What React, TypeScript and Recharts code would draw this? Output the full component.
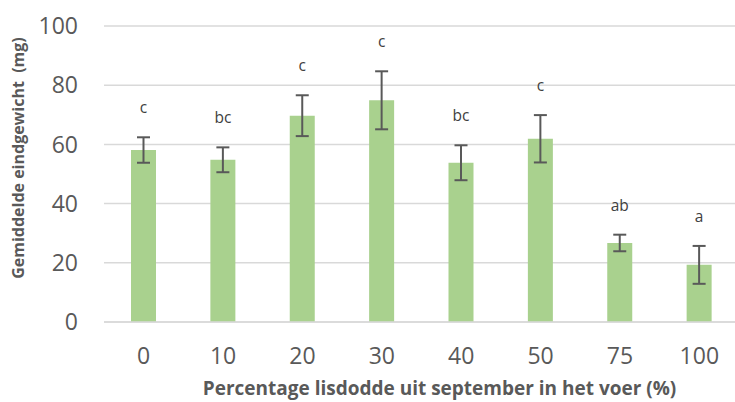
import { BarChart, Bar, XAxis, YAxis, CartesianGrid, ErrorBar, LabelList, Label } from "recharts";

const categories = ["0", "10", "20", "30", "40", "50", "75", "100"];
const means = [58.1, 54.8, 69.7, 74.9, 53.8, 61.9, 26.7, 19.3];
const errors = [4.3, 4.2, 6.9, 9.8, 5.9, 8.0, 2.8, 6.4];
const letters = ["c", "bc", "c", "c", "bc", "c", "ab", "a"];
const yTicks = [0, 20, 40, 60, 80, 100];

const data = categories.map((cat, i) => ({
  cat,
  mean: means[i],
  err: errors[i],
  letter: letters[i],
}));

const FONT = "'Open Sans', sans-serif";
const GREY = "#595959";

// letter sits a fixed distance above the top of the error bar
function LetterLabel(props: any) {
  const { x, y, width, height, value, index } = props;
  const pxPerUnit = height / means[index];
  const errTop = y - errors[index] * pxPerUnit;
  return (
    <text
      x={x + width / 2}
      y={errTop - 30}
      textAnchor="middle"
      dominantBaseline="central"
      fontFamily={FONT}
      fontSize={15.5}
      fill="#404040"
    >
      {value}
    </text>
  );
}

function YTitle(props: any) {
  const { viewBox } = props;
  const cx = 18;
  const cy = viewBox.y + viewBox.height / 2 - 16;
  return (
    <text
      x={cx}
      y={cy}
      transform={`rotate(-90 ${cx} ${cy})`}
      textAnchor="middle"
      dominantBaseline="central"
      fontFamily={FONT}
      fontWeight="bold"
      fontSize={16}
      fill={GREY}
      style={{ whiteSpace: "pre" }}
    >
      {"Gemiddelde eindgewicht  (mg)"}
    </text>
  );
}

export default function App() {
  return (
    <div style={{ position: "absolute", left: 0, top: 0, width: 735, height: 402, overflow: "hidden", background: "#fff" }}>
      <BarChart
        width={745}
        height={402}
        data={data}
        margin={{ top: 26, right: 6, bottom: 0, left: 0 }}
        barSize={25}
      >
        <CartesianGrid vertical={false} stroke="#D9D9D9" strokeWidth={1.5} />
        <XAxis
          dataKey="cat"
          height={80}
          tickLine={false}
          tickSize={0}
          tickMargin={26}
          axisLine={{ stroke: "#D9D9D9", strokeWidth: 1.5 }}
          tick={{ fontFamily: FONT, fontSize: 23, fill: GREY }}
        >
          <Label
            value="Percentage lisdodde uit september in het voer (%)"
            position="insideBottom"
            offset={7}
            dx={18}
            style={{ fontFamily: FONT, fontWeight: "bold", fontSize: 19, fill: GREY }}
          />
        </XAxis>
        <YAxis
          width={104}
          domain={[0, 100]}
          ticks={yTicks}
          axisLine={false}
          tickLine={false}
          tickSize={0}
          tickMargin={26}
          tick={{ fontFamily: FONT, fontSize: 23, fill: GREY }}
        >
          <Label content={<YTitle />} />
        </YAxis>
        <Bar dataKey="mean" fill="#A9D18E" isAnimationActive={false}>
          <ErrorBar dataKey="err" width={6.5} stroke={GREY} strokeWidth={2} direction="y" />
          <LabelList dataKey="letter" content={<LetterLabel />} />
        </Bar>
      </BarChart>
    </div>
  );
}
